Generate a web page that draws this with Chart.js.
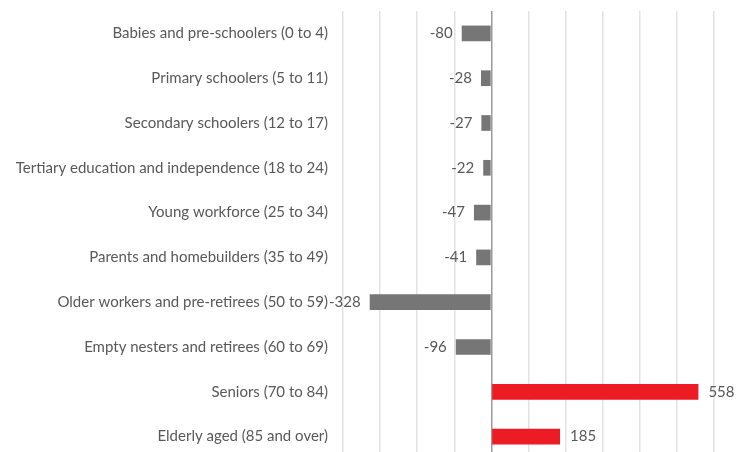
<!DOCTYPE html>
<html>
<head>
<meta charset="utf-8">
<script src="https://cdn.jsdelivr.net/npm/chart.js@4/dist/chart.umd.min.js"></script>
<style>
  html, body { margin: 0; padding: 0; background: #ffffff; }
  #frame { width: 744px; height: 452px; overflow: hidden; position: relative; }
  #box { width: 744px; height: 460px; position: absolute; left: 0; top: 0; }
</style>
</head>
<body>
<div id="frame"><div id="box"><canvas id="chart"></canvas></div></div>
<script>
// Population change by life-stage age group
const categories = [
  "Babies and pre-schoolers (0 to 4)",
  "Primary schoolers (5 to 11)",
  "Secondary schoolers (12 to 17)",
  "Tertiary education and independence (18 to 24)",
  "Young workforce (25 to 34)",
  "Parents and homebuilders (35 to 49)",
  "Older workers and pre-retirees (50 to 59)",
  "Empty nesters and retirees (60 to 69)",
  "Seniors (70 to 84)",
  "Elderly aged (85 and over)"
];
const changes = [-80, -28, -27, -22, -47, -41, -328, -96, 558, 185];
const axisMin = -400;
const axisMax = 600;
const axisStep = 100;

const GREY = "#767676";
const RED = "#ed1c24";
const TEXT = "#595959";
const FONT = "Lato, 'Liberation Sans', sans-serif";
const FONT_SIZE = 15;

// Value labels next to the end of each bar
const valueLabels = {
  id: "valueLabels",
  afterDatasetsDraw(chart) {
    const { ctx } = chart;
    const meta = chart.getDatasetMeta(0);
    ctx.save();
    ctx.font = FONT_SIZE + "px " + FONT;
    ctx.fillStyle = TEXT;
    ctx.textBaseline = "middle";
    meta.data.forEach((bar, i) => {
      const v = changes[i];
      if (v < 0) {
        ctx.textAlign = "right";
        ctx.fillText(String(v), bar.x - 9, bar.y);
      } else {
        ctx.textAlign = "left";
        ctx.fillText(String(v), bar.x + 10, bar.y);
      }
    });
    ctx.restore();
  }
};

new Chart(document.getElementById("chart"), {
  type: "bar",
  data: {
    labels: categories,
    datasets: [{
      data: changes,
      backgroundColor: changes.map(v => v < 0 ? GREY : RED),
      borderWidth: 0,
      barPercentage: 0.35,
      categoryPercentage: 1.0
    }]
  },
  options: {
    indexAxis: "y",
    responsive: true,
    maintainAspectRatio: false,
    animation: false,
    layout: { padding: { top: 11, right: 30, bottom: 1, left: 0 } },
    plugins: {
      legend: { display: false },
      tooltip: { enabled: false }
    },
    scales: {
      x: {
        min: axisMin,
        max: axisMax,
        ticks: { display: false, stepSize: axisStep },
        grid: {
          drawTicks: false,
          lineWidth: 1.5,
          color: ctx => ctx.tick && ctx.tick.value === 0 ? "#9a9a9a" : "#e2e2e2"
        },
        border: { display: false },
        afterFit(scale) { scale.height = 0; }
      },
      y: {
        grid: { display: false, drawTicks: false },
        border: { display: false },
        ticks: {
          color: TEXT,
          padding: 15,
          font: { family: FONT, size: FONT_SIZE }
        },
        afterFit(scale) {
          scale.width = 343;
          scale.paddingTop = 0;
          scale.paddingBottom = 0;
        }
      }
    }
  },
  plugins: [valueLabels]
});
</script>
</body>
</html>
